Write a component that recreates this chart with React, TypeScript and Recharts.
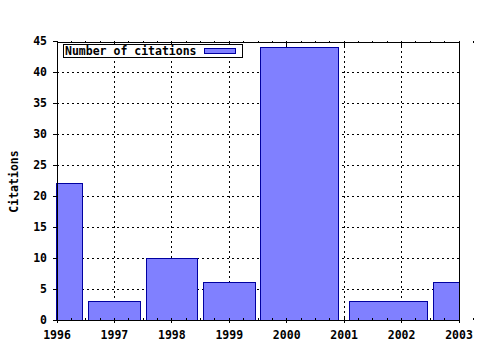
import React from "react";
import {
  ComposedChart,
  XAxis,
  YAxis,
  CartesianGrid,
  ReferenceArea,
  ReferenceLine,
  Line,
} from "recharts";

// bars span irregular year ranges, so keep start/end edges per bar
const barStart = [1996, 1996.55, 1997.55, 1998.55, 1999.55, 2001.1, 2002.55];
const barEnd = [1996.45, 1997.45, 1998.45, 1999.45, 2000.9, 2002.45, 2003];
const citations = [22, 3, 10, 6, 44, 3, 6];

const yearTicks = [1996, 1997, 1998, 1999, 2000, 2001, 2002, 2003];
const citationTicks = [0, 5, 10, 15, 20, 25, 30, 35, 40, 45];
const minorTicks = yearTicks.flatMap((y) => [y, y + 0.25, y + 0.5, y + 0.75]);

const data = citations.map((v, i) => ({
  mid: (barStart[i] + barEnd[i]) / 2,
  start: barStart[i],
  end: barEnd[i],
  citations: v,
}));

const FONT = "'DejaVu Sans Mono', monospace";
const BAR_FILL = "#8080ff";
const BAR_STROKE = "#0000a0";
const tickStyle = { fill: "#000", fontSize: 11.5, fontFamily: FONT, fontWeight: "bold" };

// secondary axes only draw when a series is bound to them
const frameAxes = ["minorBottom", "top", "minorTop"];

function YLabel({ viewBox }: any) {
  const cx = viewBox.x + 14;
  const cy = viewBox.y + viewBox.height / 2 + 1;
  return (
    <text
      x={cx}
      y={cy}
      transform={`rotate(-90, ${cx}, ${cy})`}
      textAnchor="middle"
      dominantBaseline="central"
      style={tickStyle}
    >
      Citations
    </text>
  );
}

function ChartLegend() {
  return (
    <div
      style={{
        position: "absolute",
        left: 63,
        top: 44,
        width: 178,
        height: 12,
        border: "1px solid #000",
        background: "#fff",
        display: "flex",
        alignItems: "center",
        fontFamily: FONT,
        fontSize: 11.5,
        fontWeight: "bold",
        lineHeight: "12px",
      }}
    >
      <span style={{ marginLeft: 1 }}>Number of citations</span>
      <span
        style={{
          position: "absolute",
          left: 140,
          top: 3,
          width: 30,
          height: 4,
          background: BAR_FILL,
          border: `1px solid ${BAR_STROKE}`,
        }}
      />
    </div>
  );
}

export default function App() {
  return (
    <div
      style={{
        position: "absolute",
        left: 0,
        top: 0,
        width: 480,
        height: 350,
        background: "#fff",
        shapeRendering: "crispEdges",
      }}
    >
      <ComposedChart
        width={480}
        height={350}
        data={data}
        margin={{ top: 41, right: 21, bottom: 0, left: 0 }}
      >
        <CartesianGrid
          stroke="#000"
          strokeDasharray="2 3"
          horizontalValues={citationTicks.slice(1, -1)}
          verticalValues={yearTicks.slice(1, -1)}
        />
        <XAxis
          type="number"
          dataKey="mid"
          domain={[1996, 2003]}
          ticks={yearTicks}
          allowDataOverflow
          height={30}
          tickSize={3}
          tickMargin={8}
          stroke="#000"
          tick={tickStyle}
          interval={0}
        />
        <XAxis
          xAxisId="minorBottom"
          type="number"
          dataKey="mid"
          domain={[1996, 2003]}
          ticks={minorTicks}
          allowDataOverflow
          height={1}
          mirror
          tickSize={2}
          axisLine={false}
          stroke="#000"
          tickFormatter={() => ""}
          interval={0}
        />
        <XAxis
          xAxisId="top"
          orientation="top"
          type="number"
          dataKey="mid"
          domain={[1996, 2003]}
          ticks={yearTicks}
          allowDataOverflow
          height={1}
          mirror
          tickSize={5}
          stroke="#000"
          tickFormatter={() => ""}
          interval={0}
        />
        <XAxis
          xAxisId="minorTop"
          orientation="top"
          type="number"
          dataKey="mid"
          domain={[1996, 2003]}
          ticks={minorTicks}
          allowDataOverflow
          height={1}
          mirror
          tickSize={2}
          axisLine={false}
          stroke="#000"
          tickFormatter={() => ""}
          interval={0}
        />
        <YAxis
          type="number"
          domain={[0, 45]}
          ticks={citationTicks}
          allowDataOverflow
          width={57}
          tickSize={4}
          tickMargin={6}
          stroke="#000"
          tick={tickStyle}
          interval={0}
          label={<YLabel />}
        />
        {data.map((d, i) => (
          <ReferenceArea
            key={i}
            x1={d.start}
            x2={d.end}
            y1={0}
            y2={d.citations}
            fill={BAR_FILL}
            fillOpacity={1}
            stroke={BAR_STROKE}
            strokeWidth={1}
            ifOverflow="visible"
          />
        ))}
        <ReferenceLine x={2003} stroke="#000" ifOverflow="visible" />
        <Line
          dataKey="citations"
          stroke="none"
          dot={false}
          activeDot={false}
          legendType="none"
          isAnimationActive={false}
        />
        {frameAxes.map((id) => (
          <Line
            key={`frame-${id}`}
            xAxisId={id}
            dataKey="citations"
            stroke="none"
            dot={false}
            activeDot={false}
            legendType="none"
            isAnimationActive={false}
          />
        ))}
      </ComposedChart>
      <ChartLegend />
    </div>
  );
}
